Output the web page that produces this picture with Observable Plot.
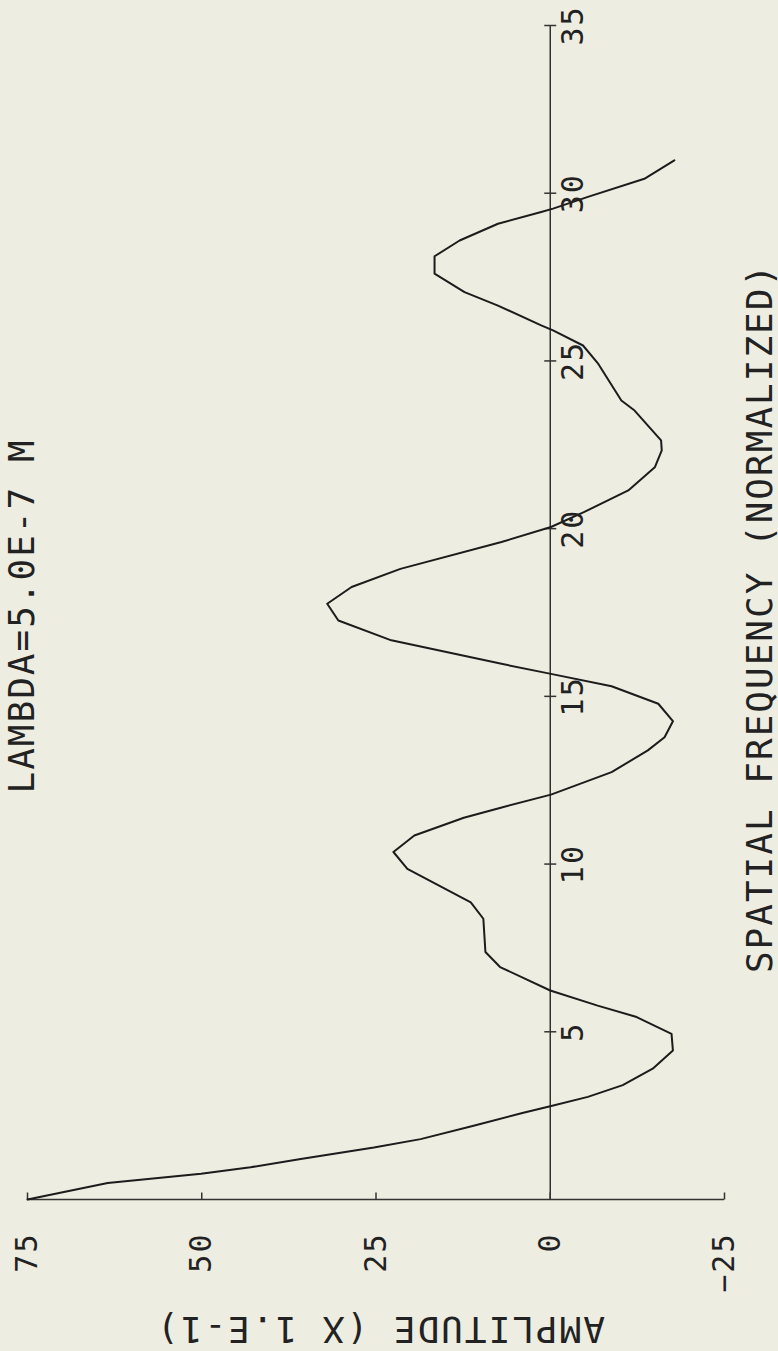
<!DOCTYPE html>
<html>
<head>
<meta charset="utf-8">
<script src="https://cdn.jsdelivr.net/npm/d3@7"></script>
<script src="https://cdn.jsdelivr.net/npm/@observablehq/plot@0.6"></script>
<style>
  html, body { margin: 0; padding: 0; background: #eeede1; overflow: hidden; }
  svg text { letter-spacing: 2px; }
  g[aria-label="titles"] text { letter-spacing: 3px; }
</style>
</head>
<body>
<div id="chart"></div>
<script>
// Spatial frequency (normalized) and amplitude (x 1.E-1)
const freq = [0, 0.49, 0.77, 0.96, 1.21, 1.55, 1.8, 2.2, 2.58, 2.78, 3.06, 3.41, 3.9, 4.44, 4.94,
  5.44, 5.78, 6.23, 6.93, 7.38, 8.37, 8.86, 9.86, 10.36, 10.85, 11.38, 11.68, 12.07, 12.74, 13.39,
  13.78, 14.26, 14.78, 15.3, 15.67, 15.97, 16.67, 17.26, 17.76, 18.26, 18.8, 19.6, 20.05, 20.5,
  21.14, 21.83, 22.33, 22.63, 23.52, 23.82, 24.91, 25.46, 25.91, 26.06, 26.65, 27.05, 27.6, 28.12,
  28.59, 29.09, 29.44, 29.54, 29.89, 30.43, 30.98];
const amp = [75, 63.5, 50.1, 43.0, 35.8, 25.3, 18.6, 11.0, 4.0, 0, -5.4, -10.4, -14.7, -17.6, -17.4,
  -12.4, -6.8, 0, 7.2, 9.3, 9.6, 11.4, 20.5, 22.5, 19.5, 12.4, 7.1, -0.1, -8.8, -14.0,
  -16.4, -17.6, -15.5, -8.8, -0.1, 7.0, 22.8, 30.4, 32.0, 28.5, 21.5, 7.0, -0.1, -4.9,
  -11.2, -15.0, -16.0, -15.9, -12.1, -10.2, -6.9, -4.7, -0.4, 1.3, 7.5, 12.3, 16.6, 16.6,
  13.0, 7.5, 1.3, -0.4, -5.4, -13.5, -17.8];

const ampTicks = [75, 50, 25, 0, -25];
const freqTicks = [5, 10, 15, 20, 25, 30, 35];
const ampTickLabels = ["75", "50", "25", "0", "−25"];
const freqTickLabels = ["5", "10", "15", "20", "25", "30", "35"];
const chartTitle = "LAMBDA=5.0E-7 M";
const freqTitle = "SPATIAL FREQUENCY (NORMALIZED)";
const ampTitle = "AMPLITUDE (X 1.E-1)";

const table = freq.map((f, i) => ({f, a: amp[i]}));

// small custom tick symbols
const upTick = {draw(ctx, size) { const l = Math.sqrt(size / Math.PI); ctx.moveTo(0, 0); ctx.lineTo(0, -l); }};
const crossTick = {draw(ctx, size) { const l = Math.sqrt(size / Math.PI); ctx.moveTo(-l, 0); ctx.lineTo(l, 0); }};

const ink = "#222";
const chart = Plot.plot({
  width: 778,
  height: 1351,
  marginLeft: 27,
  marginRight: 54,
  marginTop: 25,
  marginBottom: 152,
  x: {domain: [75, -25], axis: null},
  y: {domain: [0, 35], axis: null},
  style: {background: "#eeede1", fontFamily: "'DejaVu Sans Mono', monospace", color: ink, overflow: "visible"},
  marks: [
    Plot.ruleY([0], {stroke: "#333", strokeWidth: 1.5}),
    Plot.ruleX([0], {stroke: "#333", strokeWidth: 1.5}),
    Plot.dot(ampTicks, {x: d => d, y: 0, symbol: upTick, r: 7, stroke: "#333", strokeWidth: 1.5, fill: "none"}),
    Plot.dot(freqTicks, {x: 0, y: d => d, symbol: crossTick, r: 6, stroke: "#333", strokeWidth: 1.5, fill: "none"}),
    Plot.line(table, {x: "a", y: "f", stroke: "#1c1c1c", strokeWidth: 2, curve: "linear"}),
    Plot.text(ampTicks, {x: d => d, y: 0, text: (d, i) => ampTickLabels[i], rotate: -90, textAnchor: "end", lineAnchor: "middle", dy: 33, fontSize: 30, fill: ink}),
    Plot.text(freqTicks, {x: 0, y: d => d, text: (d, i) => freqTickLabels[i], rotate: -90, textAnchor: "middle", lineAnchor: "middle", dx: 23.5, fontSize: 30, fill: ink}),
    Plot.text([freqTitle], {frameAnchor: "right", text: d => d, rotate: -90, textAnchor: "middle", lineAnchor: "middle", dx: 36, dy: 5.5, fontSize: 36, fill: ink, ariaLabel: "titles"}),
    Plot.text([ampTitle], {frameAnchor: "bottom", text: d => d, rotate: 180, textAnchor: "middle", lineAnchor: "middle", dx: 4, dy: 129, fontSize: 36, fill: ink, ariaLabel: "titles"}),
    Plot.text([chartTitle], {frameAnchor: "left", text: d => d, rotate: -90, textAnchor: "middle", lineAnchor: "middle", dx: -5, dy: 3.5, fontSize: 36, fill: ink, ariaLabel: "titles"})
  ]
});
document.getElementById("chart").appendChild(chart);
</script>
</body>
</html>
